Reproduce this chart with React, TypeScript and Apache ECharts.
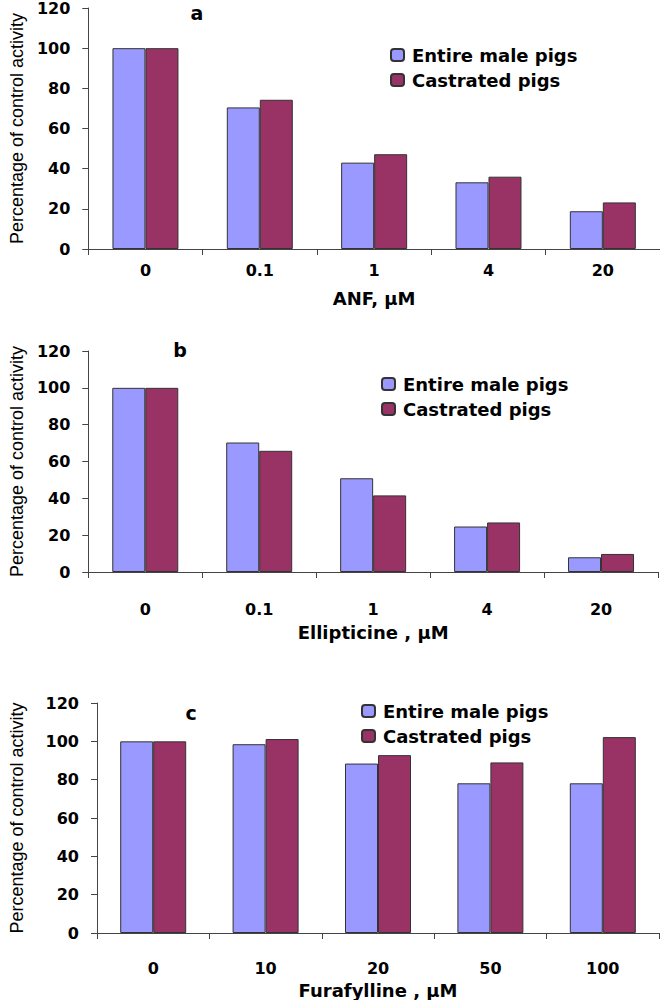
import { useEffect, useRef } from 'react';
import * as echarts from 'echarts';

const seriesNames = ['Entire male pigs', 'Castrated pigs'];
const yTicks = { min: 0, max: 120, interval: 20 };

const anfDoses = ['0', '0.1', '1', '4', '20'];
const anfEntire = [100, 70.5, 43, 33.2, 18.8];
const anfCastrated = [100, 74.3, 47.2, 36, 23.2];

const ellipticineDoses = ['0', '0.1', '1', '4', '20'];
const ellipticineEntire = [100, 70.3, 50.9, 24.7, 8.0];
const ellipticineCastrated = [100, 65.8, 41.6, 26.9, 9.8];

const furafyllineDoses = ['0', '10', '20', '50', '100'];
const furafyllineEntire = [100, 98.5, 88.4, 78.1, 78.1];
const furafyllineCastrated = [100, 101.2, 92.8, 89.0, 102.2];

const BOLD_FONT = "'DejaVu Sans', Verdana, sans-serif";
const PLAIN_FONT = "'Liberation Sans', Arial, sans-serif";
const COLORS = ['#9999FF', '#993366'];

// one entry per stacked panel (a, b, c)
const panels = [
  {
    letter: 'a', xName: 'ANF, μM', doses: anfDoses, values: [anfEntire, anfCastrated],
    grid: { left: 73, top: 6, width: 587, height: 243 },
    yNameGap: 58, xLabelMargin: 13, xNameGap: 40,
    legend: { left: 385, top: 41 }, letterPos: [197, 13],
  },
  {
    letter: 'b', xName: 'Ellipticine , μM', doses: ellipticineDoses, values: [ellipticineEntire, ellipticineCastrated],
    grid: { left: 77, top: 351, width: 581, height: 221 },
    yNameGap: 58, xLabelMargin: 29, xNameGap: 51,
    legend: { left: 376, top: 370 }, letterPos: [180, 350],
  },
  {
    letter: 'c', xName: 'Furafylline , μM', doses: furafyllineDoses, values: [furafyllineEntire, furafyllineCastrated],
    grid: { left: 93, top: 703, width: 566, height: 230 },
    yNameGap: 71, xLabelMargin: 27, xNameGap: 48,
    legend: { left: 356, top: 697 }, letterPos: [191, 713],
  },
];

export default function App() {
  const chartRef = useRef<HTMLDivElement>(null);

  useEffect(() => {
    if (!chartRef.current) return;
    const chart = echarts.init(chartRef.current, null, { renderer: 'svg' });

    const axisLine = { show: true, lineStyle: { color: '#444', width: 1 } };
    const axisTick = { show: true, length: 6, lineStyle: { color: '#444' } };
    const tickFont = { fontFamily: BOLD_FONT, fontSize: 16, fontWeight: 'bold' as const, color: '#000' };

    const option: echarts.EChartsOption = {
      animation: false,
      backgroundColor: '#fff',
      grid: panels.map(p => ({ ...p.grid, containLabel: false })),
      legend: panels.map(p => ({
        data: seriesNames,
        orient: 'vertical',
        left: p.legend.left,
        top: p.legend.top,
        itemWidth: 13,
        itemHeight: 12,
        itemGap: 7,
        selectedMode: false,
        textStyle: { fontFamily: BOLD_FONT, fontSize: 18, fontWeight: 'bold', color: '#000', lineHeight: 18, padding: [0, 0, 0, 3] },
      })),
      xAxis: panels.map((p, i) => ({
        type: 'category',
        gridIndex: i,
        data: p.doses,
        boundaryGap: true,
        name: p.xName,
        nameLocation: 'middle',
        nameGap: p.xNameGap,
        nameTextStyle: { fontFamily: BOLD_FONT, fontSize: 18, fontWeight: 'bold', color: '#000' },
        axisLine,
        axisTick: { ...axisTick, alignWithLabel: false },
        axisLabel: { margin: p.xLabelMargin, ...tickFont },
        splitLine: { show: false },
      })),
      yAxis: panels.map((p, i) => ({
        type: 'value',
        gridIndex: i,
        ...yTicks,
        name: 'Percentage of control activity',
        nameLocation: 'middle',
        nameGap: p.yNameGap,
        nameTextStyle: { fontFamily: PLAIN_FONT, fontSize: 18, color: '#000' },
        axisLine,
        axisTick,
        axisLabel: { margin: 18, ...tickFont },
        splitLine: { show: false },
      })),
      series: panels.flatMap((p, i) =>
        p.values.map((vals, k) => ({
          type: 'bar' as const,
          name: seriesNames[k],
          xAxisIndex: i,
          yAxisIndex: i,
          data: vals,
          barWidth: 33,
          barGap: '0%',
          itemStyle: { color: COLORS[k], borderColor: '#333', borderWidth: 1 },
        }))
      ),
      graphic: panels.map(p => ({
        type: 'text',
        x: p.letterPos[0],
        y: p.letterPos[1],
        style: {
          text: p.letter,
          font: `bold 19px ${BOLD_FONT}`,
          fill: '#000',
          textAlign: 'center',
          textVerticalAlign: 'middle',
        },
      })),
    };

    chart.setOption(option);

    return () => {
      chart.dispose();
    };
  }, []);

  return (
    <div style={{ position: 'absolute', left: 0, top: 0, width: 660, height: 1000, background: '#fff' }}>
      <div ref={chartRef} style={{ width: 660, height: 1000 }} />
    </div>
  );
}
